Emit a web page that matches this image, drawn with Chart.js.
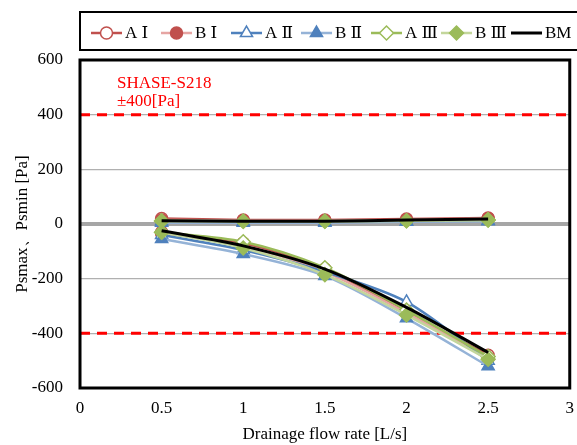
<!DOCTYPE html>
<html>
<head>
<meta charset="utf-8">
<script src="https://cdn.jsdelivr.net/npm/chart.js@4/dist/chart.umd.min.js"></script>
<style>
  html, body { margin: 0; padding: 0; background: #fff; overflow: hidden; }
  #wrap { width: 584px; height: 445px; }
  canvas { display: block; }
</style>
</head>
<body>
<div id="wrap"><canvas id="chart" width="584" height="445"></canvas></div>
<script>
// Flow rates [L/s]
const flowRates = [0.5, 1, 1.5, 2, 2.5];

// Psmax (upper curves) [Pa]
const maxAI   = [20, 15, 15, 18, 22];
const maxBI   = [15, 12, 12, 15, 20];
const maxAII  = [10, 8, 8, 10, 12];
const maxBII  = [5, 5, 5, 8, 10];
const maxAIII = [12, 10, 10, 12, 15];
const maxBIII = [10, 10, 10, 12, 15];
const maxBM   = [12, 10, 10, 15, 18];

// Psmin (lower curves) [Pa]
const minAI   = [-35, -70, -165, -320, -480];
const minBI   = [-30, -80, -175, -325, -490];
const minAII  = [-40, -95, -175, -285, -500];
const minBII  = [-55, -110, -190, -345, -520];
const minAIII = [-30, -65, -160, -315, -485];
const minBIII = [-30, -88, -185, -333, -495];
const minBM   = [-25, -80, -165, -305, -470];

const yTicks = [-600, -400, -200, 0, 200, 400, 600];
const xTicks = [0, 0.5, 1, 1.5, 2, 2.5, 3];
const limits = [400, -400];

const FONT = "'Liberation Serif', 'DejaVu Serif', serif";

// Series styles
const series = [
    { name: 'A Ⅰ', max: maxAI,   min: minAI,   line: '#C0504D', mark: 'circle',   fill: '#ffffff', edge: '#C0504D', order: 6 },
    { name: 'B Ⅰ', max: maxBI,   min: minBI,   line: '#E6A5A3', mark: 'circle',   fill: '#C0504D', edge: '#C0504D', order: 5 },
    { name: 'A Ⅱ', max: maxAII,  min: minAII,  line: '#4F81BD', mark: 'triangle', fill: '#ffffff', edge: '#4F81BD', order: 4 },
    { name: 'B Ⅱ', max: maxBII,  min: minBII,  line: '#95B3D7', mark: 'triangle', fill: '#4F81BD', edge: '#4F81BD', order: 3 },
    { name: 'A Ⅲ', max: maxAIII, min: minAIII, line: '#9BBB59', mark: 'rectRot',  fill: '#ffffff', edge: '#9BBB59', order: 2 },
    { name: 'B Ⅲ', max: maxBIII, min: minBIII, line: '#C3D69B', mark: 'rectRot',  fill: '#9BBB59', edge: '#9BBB59', order: 1 },
    { name: 'BM',  max: maxBM,   min: minBM,   line: '#000000', mark: false,      fill: '#000000', edge: '#000000', order: 0 }
];

function toPoints(values) {
    return flowRates.map((x, i) => ({ x: x, y: values[i] }));
}

const datasets = [];
series.forEach(s => {
    [s.max, s.min].forEach(values => {
        datasets.push({
            label: s.name,
            data: toPoints(values),
            borderColor: s.line,
            borderWidth: s.mark ? 2.5 : 3,
            pointStyle: s.mark || 'circle',
            pointRadius: s.mark ? (s.mark === 'circle' ? 6 : 7) : 0,
            pointBackgroundColor: s.fill,
            pointBorderColor: s.edge,
            pointBorderWidth: 1.5,
            tension: 0.3,
            order: s.order
        });
    });
});

// Plot frame, reference lines, annotation, legend
const decorations = {
    id: 'decorations',
    beforeDatasetsDraw(chart) {
        const ctx = chart.ctx;
        const area = chart.chartArea;
        const yScale = chart.scales.y;
        ctx.save();
        ctx.strokeStyle = '#FF0000';
        ctx.lineWidth = 3;
        ctx.setLineDash([10, 7]);
        limits.forEach(v => {
            const y = yScale.getPixelForValue(v);
            ctx.beginPath();
            ctx.moveTo(area.left, y);
            ctx.lineTo(area.right, y);
            ctx.stroke();
        });
        ctx.setLineDash([]);
        ctx.fillStyle = '#FF0000';
        ctx.font = '17px ' + FONT;
        ctx.textBaseline = 'alphabetic';
        ctx.fillText('SHASE-S218', area.left + 37, area.top + 28);
        ctx.fillText('±400[Pa]', area.left + 37, area.top + 46);
        ctx.restore();
    },
    afterDraw(chart) {
        const ctx = chart.ctx;
        const area = chart.chartArea;
        ctx.save();
        ctx.strokeStyle = '#000';
        ctx.lineWidth = 3;
        ctx.strokeRect(area.left, area.top, area.right - area.left, area.bottom - area.top);

        // legend box
        ctx.lineWidth = 2;
        ctx.strokeRect(area.left, 12, 600, 38);
        const y = 33;
        ctx.font = '17px ' + FONT;
        ctx.textBaseline = 'middle';
        series.forEach((s, i) => {
            const x0 = 91 + i * 70;
            ctx.strokeStyle = s.line;
            ctx.lineWidth = s.mark ? 2.5 : 3;
            ctx.beginPath();
            ctx.moveTo(x0, y);
            ctx.lineTo(x0 + 31, y);
            ctx.stroke();
            if (s.mark) {
                ctx.fillStyle = s.fill;
                ctx.strokeStyle = s.edge;
                ctx.lineWidth = 1.5;
                Chart.helpers.drawPoint(ctx, {
                    pointStyle: s.mark,
                    radius: s.mark === 'circle' ? 6 : 7,
                    borderWidth: 1.5,
                    rotation: 0
                }, x0 + 15.5, y);
            }
            ctx.fillStyle = '#000';
            ctx.fillText(s.name, x0 + 34, y + 1);
        });
        ctx.restore();
    }
};

new Chart(document.getElementById('chart'), {
    type: 'line',
    data: { datasets: datasets },
    options: {
        responsive: false,
        animation: false,
        layout: { padding: { top: 60, right: 2, left: 0, bottom: 0 } },
        plugins: {
            legend: { display: false },
            tooltip: { enabled: false }
        },
        scales: {
            x: {
                type: 'linear',
                min: 0,
                max: 3,
                afterBuildTicks: scale => { scale.ticks = xTicks.map(v => ({ value: v })); },
                afterFit: scale => { scale.height = 57; },
                grid: { display: false, drawTicks: false },
                border: { display: false },
                ticks: {
                    color: '#000',
                    font: { family: FONT, size: 17 },
                    padding: 10,
                    maxRotation: 0,
                    callback: v => String(v)
                },
                title: {
                    display: true,
                    text: 'Drainage flow rate [L/s]',
                    color: '#000',
                    font: { family: FONT, size: 17 },
                    padding: { top: 6, bottom: 0 }
                }
            },
            y: {
                min: -600,
                max: 600,
                afterBuildTicks: scale => { scale.ticks = yTicks.map(v => ({ value: v })); },
                afterFit: scale => { scale.width = 80; },
                grid: {
                    drawTicks: false,
                    color: ctx => ctx.tick.value === 0 ? '#A6A6A6' : '#B0B0B0',
                    lineWidth: ctx => ctx.tick.value === 0 ? 4 : 1.2
                },
                border: { display: false },
                ticks: {
                    color: '#000',
                    font: { family: FONT, size: 17 },
                    padding: 17
                },
                title: {
                    display: true,
                    text: 'Psmax、Psmin [Pa]',
                    color: '#000',
                    font: { family: FONT, size: 17 },
                    padding: { top: 12, bottom: 4 }
                }
            }
        }
    },
    plugins: [decorations]
});
</script>
</body>
</html>
